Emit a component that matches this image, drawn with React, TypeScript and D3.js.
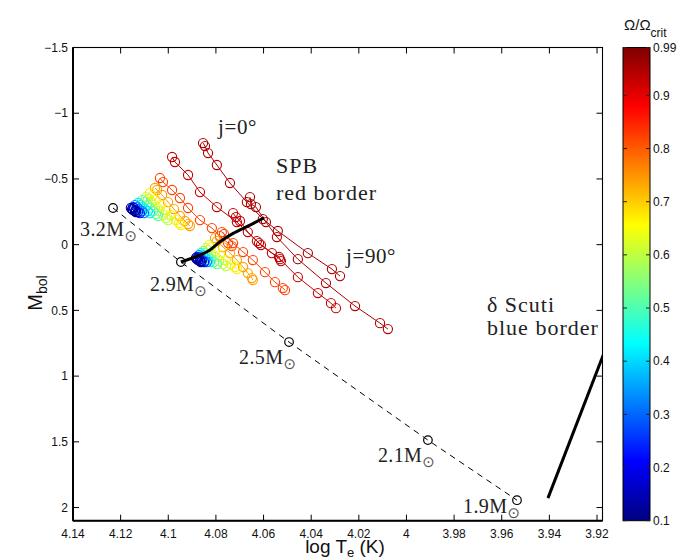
import React from "react";
import * as d3 from "d3";

// ---------- data ----------
const xTicks = [4.14, 4.12, 4.1, 4.08, 4.06, 4.04, 4.02, 4.0, 3.98, 3.96, 3.94, 3.92];
const yTicks = [-1.5, -1, -0.5, 0, 0.5, 1, 1.5, 2];
const cbTicks = [0.1, 0.2, 0.3, 0.4, 0.5, 0.6, 0.7, 0.8, 0.9, 0.99];

const zamsMass = ["3.2", "2.9", "2.5", "2.1", "1.9"];
const zamsLogT = [4.1232, 4.0947, 4.0493, 3.991, 3.9536];
const zamsMbol = [-0.279, 0.132, 0.741, 1.487, 1.944];

const spbLogT = [4.0947, 4.0867, 4.0825, 4.0783, 4.0728, 4.0657, 4.0598];
const spbMbol = [0.132, 0.079, 0.041, -0.022, -0.086, -0.149, -0.205];

const dsLogT = [3.9406, 3.9104];
const dsMbol = [1.928, 0.511];

// rotating tracks: one line per (mass, Omega/Omega_crit), points j = 0..90 deg
const trackOmega = [
  0.95, 0.93, 0.82, 0.74, 0.67, 0.6, 0.52, 0.42, 0.32, 0.22, 0.12,
  0.95, 0.93, 0.82, 0.74, 0.67, 0.6, 0.52, 0.42, 0.32, 0.22, 0.12,
];
const trackLogT = [
  [4.0854, 4.0846, 4.0833, 4.0796, 4.0741, 4.067, 4.0603, 4.054, 4.0414, 4.0313, 4.0279],
  [4.0984, 4.0972, 4.0917, 4.0867, 4.0796, 4.0712, 4.0619, 4.0531, 4.0456, 4.0372, 4.0317, 4.0296],
  [4.1035, 4.1022, 4.0984, 4.0951, 4.0917, 4.0867, 4.0817, 4.0783, 4.0749, 4.0733],
  [4.1056, 4.1047, 4.1026, 4.1001, 4.0976, 4.0951, 4.093, 4.0917, 4.0909],
  [4.1077, 4.1068, 4.1052, 4.1031, 4.101, 4.0989, 4.0968, 4.0955, 4.0947],
  [4.1094, 4.1085, 4.1073, 4.1056, 4.1039, 4.1022, 4.101, 4.1001],
  [4.111, 4.1102, 4.1089, 4.1077, 4.1064, 4.1052, 4.1043],
  [4.1127, 4.1119, 4.111, 4.1098, 4.1085, 4.1077],
  [4.114, 4.1131, 4.1123, 4.111, 4.1102],
  [4.1148, 4.1144, 4.1136, 4.1127, 4.1119],
  [4.1157, 4.1152, 4.1148, 4.114, 4.1136],
  [4.0657, 4.0653, 4.0632, 4.059, 4.0544, 4.0456, 4.0338, 4.0216, 4.0111, 4.0078],
  [4.0728, 4.0716, 4.0699, 4.0666, 4.0628, 4.0611, 4.0565, 4.0535, 4.0527],
  [4.0775, 4.0766, 4.0728, 4.0686, 4.0645, 4.0594, 4.0552, 4.0519, 4.051],
  [4.0804, 4.0796, 4.077, 4.0741, 4.0712, 4.0686, 4.0666, 4.0649, 4.0645],
  [4.0829, 4.0821, 4.0804, 4.0783, 4.0758, 4.0737, 4.072, 4.0712],
  [4.0842, 4.0833, 4.0821, 4.0804, 4.0787, 4.077, 4.0758],
  [4.0854, 4.0846, 4.0833, 4.0821, 4.0808, 4.0796],
  [4.0863, 4.0854, 4.0846, 4.0833, 4.0825],
  [4.0871, 4.0867, 4.0859, 4.0846, 4.0838],
  [4.088, 4.0875, 4.0867, 4.0859, 4.085],
  [4.0884, 4.088, 4.0875, 4.0867, 4.0863],
];
const trackMbol = [
  [-0.773, -0.75, -0.697, -0.606, -0.469, -0.324, -0.195, -0.104, 0.064, 0.186, 0.239],
  [-0.667, -0.629, -0.53, -0.4, -0.286, -0.172, -0.012, 0.11, 0.247, 0.368, 0.445, 0.483],
  [-0.507, -0.476, -0.416, -0.355, -0.279, -0.187, -0.126, -0.065, -0.012, 0.011],
  [-0.431, -0.416, -0.378, -0.324, -0.271, -0.218, -0.18, -0.157, -0.142],
  [-0.393, -0.37, -0.339, -0.301, -0.263, -0.225, -0.187, -0.164, -0.149],
  [-0.362, -0.347, -0.317, -0.286, -0.256, -0.225, -0.202, -0.187],
  [-0.339, -0.324, -0.301, -0.279, -0.256, -0.233, -0.218],
  [-0.317, -0.301, -0.286, -0.271, -0.256, -0.24],
  [-0.301, -0.286, -0.271, -0.256, -0.24],
  [-0.286, -0.279, -0.263, -0.248, -0.24],
  [-0.279, -0.271, -0.263, -0.256, -0.248],
  [-0.362, -0.309, -0.286, -0.172, -0.058, 0.11, 0.292, 0.467, 0.597, 0.642],
  [-0.24, -0.21, -0.18, -0.096, -0.027, 0.003, 0.064, 0.094, 0.125],
  [-0.096, -0.081, -0.012, 0.056, 0.117, 0.209, 0.285, 0.33, 0.346],
  [-0.05, -0.027, 0.018, 0.064, 0.117, 0.17, 0.216, 0.254, 0.269],
  [0.003, 0.018, 0.049, 0.079, 0.117, 0.148, 0.17, 0.186],
  [0.026, 0.041, 0.064, 0.094, 0.125, 0.148, 0.163],
  [0.049, 0.064, 0.087, 0.11, 0.132, 0.148],
  [0.064, 0.079, 0.094, 0.117, 0.132],
  [0.079, 0.094, 0.11, 0.125, 0.132],
  [0.094, 0.102, 0.11, 0.125, 0.132],
  [0.102, 0.11, 0.117, 0.125, 0.132],
];

// ---------- layout ----------
const W = 682;
const H = 558;
const PL = 73, PR = 602.5, PT = 47.5, PB = 520.7;
const CBL = 623, CBR = 650;
const labelOffsets = [[-33, 28], [-31, 29], [-50, 22], [-50, 22], [-54, 13]];
const serif = "'Liberation Serif', 'Times New Roman', Times, serif";
const sans = "'Liberation Sans', Arial, Helvetica, sans-serif";

function clamp(v: number) { return Math.max(0, Math.min(1, v)); }
function jet(t: number) {
  const r = clamp(1.5 - Math.abs(4 * t - 3));
  const g = clamp(1.5 - Math.abs(4 * t - 2));
  const b = clamp(1.5 - Math.abs(4 * t - 1));
  return d3.rgb(r * 255, g * 255, b * 255).formatHex();
}

const serifStyle = (size: number, ls: number) => ({ fontFamily: serif, fontSize: size, letterSpacing: ls });

export default function App() {
  const x = d3.scaleLinear().domain([4.14, 3.9177]).range([PL, PR]);
  const y = d3.scaleLinear().domain([-1.5, 2.1]).range([PT, PB]);
  const cb = d3.scaleLinear().domain([0.1, 0.99]).range([PB, PT]);
  const col = (o: number) => jet((o - 0.1) / 0.89);
  const fmt = d3.format("");

  const line = d3.line<[number, number]>().x((d) => x(d[0])).y((d) => y(d[1]));
  const smooth = d3.line<[number, number]>().x((d) => x(d[0])).y((d) => y(d[1])).curve(d3.curveCatmullRom);

  const zamsPts = zamsLogT.map((t, i) => [t, zamsMbol[i]] as [number, number]);
  const spbPts = spbLogT.map((t, i) => [t, spbMbol[i]] as [number, number]);
  const dsPts = dsLogT.map((t, i) => [t, dsMbol[i]] as [number, number]);

  const stops = d3.range(0, 65).map((i) => i / 64);

  return (
    <svg width={W} height={H} style={{ position: "absolute", left: 0, top: 0, background: "#fff" }}>
      <defs>
        <clipPath id="plotclip">
          <rect x={PL} y={PT} width={PR - PL} height={PB - PT} />
        </clipPath>
        <linearGradient id="jetgrad" x1="0" y1="1" x2="0" y2="0">
          {stops.map((s, i) => (
            <stop key={i} offset={s} stopColor={jet(s)} />
          ))}
        </linearGradient>
      </defs>
      <rect x={0} y={0} width={W} height={H} fill="#fff" />

      <g clipPath="url(#plotclip)">
        <path d={line(zamsPts) || ""} fill="none" stroke="#000" strokeWidth={1} strokeDasharray="6,5" />
        {trackLogT.map((ts, k) => {
          const pts = ts.map((t, i) => [t, trackMbol[k][i]] as [number, number]);
          const c = col(trackOmega[k]);
          return (
            <g key={k}>
              <path d={line(pts) || ""} fill="none" stroke={c} strokeWidth={1} />
              {pts.map((p, i) => (
                <circle key={i} cx={x(p[0])} cy={y(p[1])} r={4.6} fill="none" stroke={c} strokeWidth={1.1} />
              ))}
            </g>
          );
        })}
        {zamsPts.map((p, i) => (
          <circle key={i} cx={x(p[0])} cy={y(p[1])} r={4.3} fill="none" stroke="#000" strokeWidth={1.2} />
        ))}
        <path d={smooth(spbPts) || ""} fill="none" stroke="#000" strokeWidth={3} />
        <path d={line(dsPts) || ""} fill="none" stroke="#000" strokeWidth={3} />
      </g>

      {zamsMass.map((m, i) => (
        <text
          key={m}
          x={x(zamsLogT[i]) + labelOffsets[i][0]}
          y={y(zamsMbol[i]) + labelOffsets[i][1]}
          style={serifStyle(20, 0.4)}
          fill="#222"
        >
          {m}M
          <tspan style={{ fontFamily: "'DejaVu Sans', sans-serif", fontSize: 15, letterSpacing: 0 }} fill="#555" dy={5}>⊙</tspan>
        </text>
      ))}

      <text x={218} y={134} style={serifStyle(21, 0.6)} fill="#222">j=0°</text>
      <text x={346} y={263} style={serifStyle(21, 0.6)} fill="#222">j=90°</text>
      <text x={276} y={173} style={serifStyle(22, 1)} fill="#222">SPB</text>
      <text x={276} y={200} style={serifStyle(22, 1)} fill="#222">red border</text>
      <text x={487} y={312} style={serifStyle(22, 1)} fill="#222">δ Scuti</text>
      <text x={487} y={335} style={serifStyle(22, 1)} fill="#222">blue border</text>

      <rect x={PL} y={PT} width={PR - PL} height={PB - PT} fill="none" stroke="#000" strokeWidth={1.1} />
      <line x1={PL} y1={PT} x2={PL} y2={PB} stroke="#000" strokeWidth={2} />
      <line x1={PL} y1={PB} x2={PR} y2={PB} stroke="#000" strokeWidth={2} />

      {xTicks.map((t) => (
        <g key={"x" + t}>
          <line x1={x(t)} x2={x(t)} y1={PB} y2={PB - 6} stroke="#000" strokeWidth={1} />
          <line x1={x(t)} x2={x(t)} y1={PT} y2={PT + 6} stroke="#000" strokeWidth={1} />
          <text x={x(t)} y={PB + 17} textAnchor="middle" style={{ fontFamily: sans, fontSize: 12 }} fill="#111">{fmt(t)}</text>
        </g>
      ))}
      {yTicks.map((t) => (
        <g key={"y" + t}>
          <line x1={PL} x2={PL + 6} y1={y(t)} y2={y(t)} stroke="#000" strokeWidth={1} />
          <line x1={PR} x2={PR - 6} y1={y(t)} y2={y(t)} stroke="#000" strokeWidth={1} />
          <text x={PL - 5} y={y(t)} dy="0.35em" textAnchor="end" style={{ fontFamily: sans, fontSize: 12 }} fill="#111">{fmt(t)}</text>
        </g>
      ))}

      <text transform={`translate(42,293) rotate(-90)`} textAnchor="middle" style={{ fontFamily: sans, fontSize: 20 }} fill="#111">
        M<tspan style={{ fontSize: 14 }} dy={5}>bol</tspan>
      </text>
      <text x={345} y={553} textAnchor="middle" style={{ fontFamily: sans, fontSize: 19 }} fill="#111">
        log T<tspan style={{ fontSize: 13 }} dy={4}>e</tspan><tspan dy={-4}> (K)</tspan>
      </text>

      <rect x={CBL} y={PT} width={CBR - CBL} height={PB - PT} fill="url(#jetgrad)" stroke="#000" strokeWidth={1} />
      {cbTicks.map((t) => (
        <g key={"c" + t}>
          <line x1={CBL} x2={CBL + 4} y1={cb(t)} y2={cb(t)} stroke="#222" strokeWidth={1} />
          <line x1={CBR} x2={CBR - 4} y1={cb(t)} y2={cb(t)} stroke="#222" strokeWidth={1} />
          <text x={CBR + 3} y={cb(t)} dy="0.35em" style={{ fontFamily: sans, fontSize: 12 }} fill="#111">{fmt(t)}</text>
        </g>
      ))}
      <text x={624} y={30} style={{ fontFamily: sans, fontSize: 15 }} fill="#111">
        Ω/Ω<tspan style={{ fontSize: 12 }} dy={7}>crit</tspan>
      </text>
    </svg>
  );
}
